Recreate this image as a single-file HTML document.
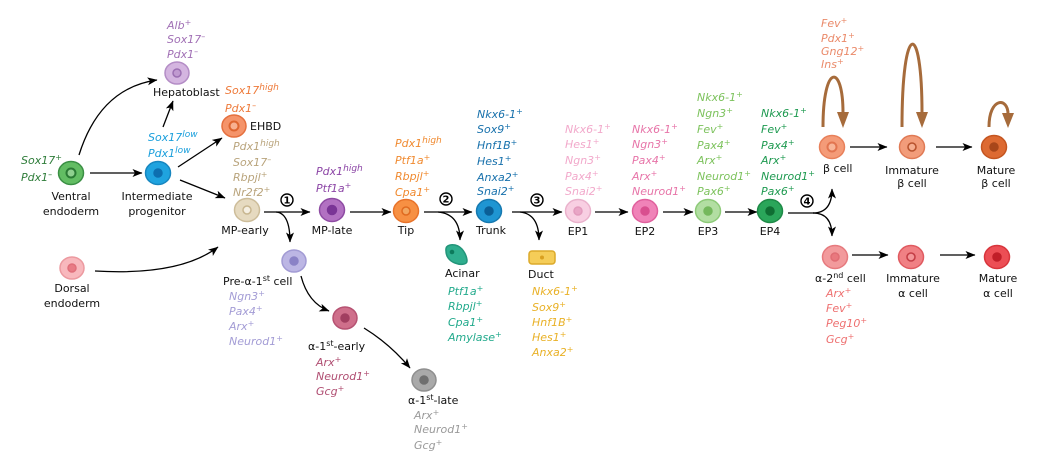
<!DOCTYPE html>
<html><head><meta charset="utf-8"><style>
html,body{margin:0;padding:0;background:#fff;}
svg{display:block;}
.l{font-family:"DejaVu Sans","Liberation Sans",sans-serif;font-size:11px;fill:#111;}
.m{font-family:"DejaVu Sans","Liberation Sans",sans-serif;font-size:11px;font-style:italic;}
.s{font-size:8px;}
.n{font-family:"DejaVu Sans","Liberation Sans",sans-serif;font-size:10px;font-weight:bold;fill:#000;}
</style></head><body>
<svg width="1039" height="456" viewBox="0 0 1039 456" xmlns="http://www.w3.org/2000/svg">
<defs>
<marker id="ah" markerUnits="userSpaceOnUse" markerWidth="11" markerHeight="9" refX="9.5" refY="4" orient="auto">
<path d="M0,0 L10,4 L0,8 L2.5,4 z" fill="#000"/>
</marker>
</defs>
<rect width="1039" height="456" fill="#fff"/>

<!-- arrows -->
<g fill="none" stroke="#000" stroke-width="1.3">
<path d="M90,173 L142,173" marker-end="url(#ah)"/>
<path d="M79,155 Q100,88 157,80" marker-end="url(#ah)"/>
<path d="M163,127 L173,101" marker-end="url(#ah)"/>
<path d="M178,167 L222,138" marker-end="url(#ah)"/>
<path d="M180,180 L225,198" marker-end="url(#ah)"/>
<path d="M95,271 Q180,276 218,247" marker-end="url(#ah)"/>
<path d="M264,212 L310,212" marker-end="url(#ah)"/>
<path d="M276,212 Q290,213 290,242" marker-end="url(#ah)"/>
<path d="M350,212 L391,212" marker-end="url(#ah)"/>
<path d="M424,212 L472,212" marker-end="url(#ah)"/>
<path d="M438,212 Q460,214 460,240" marker-end="url(#ah)"/>
<path d="M512,212 L562,212" marker-end="url(#ah)"/>
<path d="M520,212 Q539,214 539,240" marker-end="url(#ah)"/>
<path d="M595,212 L628,212" marker-end="url(#ah)"/>
<path d="M663,212 L693,212" marker-end="url(#ah)"/>
<path d="M725,212 L757,212" marker-end="url(#ah)"/>
<path d="M788,213 L814,213"/>
<path d="M813,213 C825,213 832,206 832,189" marker-end="url(#ah)"/>
<path d="M813,213 C825,213 832,220 832,236" marker-end="url(#ah)"/>
<path d="M850,147 L887,147" marker-end="url(#ah)"/>
<path d="M936,147 L972,147" marker-end="url(#ah)"/>
<path d="M852,255 L888,255" marker-end="url(#ah)"/>
<path d="M940,255 L975,255" marker-end="url(#ah)"/>
<path d="M301,276 Q308,303 329,311" marker-end="url(#ah)"/>
<path d="M364,328 Q390,344 410,368" marker-end="url(#ah)"/>
</g>

<!-- brown loops -->
<g fill="none" stroke="#a66b3b" stroke-width="3">
<path d="M823,127 C823,63 843,63 843,113"/>
<path d="M902,127 C902,19 922,19 922,113"/>
<path d="M989,127 C989,97 1008,97 1008,114"/>
</g>
<g fill="#a66b3b">
<polygon points="837,112 849,112 843,128"/>
<polygon points="916,112 928,112 922,128"/>
<polygon points="1002,113 1014,113 1008,128"/>
</g>

<!-- circled numbers -->
<g fill="#fff" stroke="#000" stroke-width="1.4">
<circle cx="287" cy="200" r="6"/>
<circle cx="446" cy="199" r="6"/>
<circle cx="537" cy="200" r="6"/>
<circle cx="807" cy="201" r="6"/>
</g>
<g class="n" text-anchor="middle">
<text x="287" y="203.5">1</text>
<text x="446" y="202.5">2</text>
<text x="537" y="203.5">3</text>
<text x="807" y="204.5">4</text>
</g>

<!-- cells -->
<g stroke-width="1.5">
<g transform="translate(71,173)"><ellipse rx="12.5" ry="11.5" fill="#62bd63" stroke="#3a8f44"/><circle r="4.5" fill="#8fd08f" stroke="#2a7a34" stroke-width="2"/></g>
<g transform="translate(158,173)"><ellipse rx="12.5" ry="11.5" fill="#1fa3df" stroke="#1786bf"/><circle r="4" fill="#0d6fb0" stroke="#0d6fb0"/></g>
<g transform="translate(177,73)"><ellipse rx="12" ry="11" fill="#d4b5e0" stroke="#b48dc6"/><circle r="4" fill="#c09ad0" stroke="#9b6fb2"/></g>
<g transform="translate(234,126)"><ellipse rx="12" ry="11" fill="#f5946a" stroke="#e5703f"/><circle r="4.5" fill="#f8b090" stroke="#de6530" stroke-width="2"/></g>
<g transform="translate(247,210)"><ellipse rx="12.5" ry="11.5" fill="#e6dac0" stroke="#cdbd9a"/><circle r="4" fill="#f5efe2" stroke="#c8b690"/></g>
<g transform="translate(332,210)"><ellipse rx="12.5" ry="11.5" fill="#b271c2" stroke="#8e4ba3"/><circle r="4.5" fill="#7a3596" stroke="#7a3596"/></g>
<g transform="translate(406,211)"><ellipse rx="12.5" ry="11.5" fill="#f79043" stroke="#e8732a"/><circle r="4" fill="#f2a660" stroke="#e06a20"/></g>
<g transform="translate(489,211)"><ellipse rx="12.5" ry="11.5" fill="#1f95d2" stroke="#1679b0"/><circle r="4" fill="#0b5f97" stroke="#0b5f97"/></g>
<g transform="translate(578,211)"><ellipse rx="12.5" ry="11.5" fill="#f8cfe2" stroke="#eab2cc"/><circle r="4" fill="#e9a6c6" stroke="#e29bbd"/></g>
<g transform="translate(645,211)"><ellipse rx="12.5" ry="11.5" fill="#f083b8" stroke="#e0609d"/><circle r="4" fill="#d94f8f" stroke="#d94f8f"/></g>
<g transform="translate(708,211)"><ellipse rx="12.5" ry="11.5" fill="#b2dea2" stroke="#8dca78"/><circle r="4" fill="#74b85c" stroke="#74b85c"/></g>
<g transform="translate(770,211)"><ellipse rx="12.5" ry="11.5" fill="#2aa65a" stroke="#1e8a47"/><circle r="4" fill="#0f6e33" stroke="#0f6e33"/></g>
<g transform="translate(832,147)"><ellipse rx="12.5" ry="11.5" fill="#f49b78" stroke="#e8805a"/><circle r="4.5" fill="#f8b598" stroke="#e27550" stroke-width="2"/></g>
<g transform="translate(912,147)"><ellipse rx="12.5" ry="11.5" fill="#f29c7a" stroke="#e07a55"/><circle r="4" fill="#f5ad8f" stroke="#b8532e" stroke-width="1.6"/></g>
<g transform="translate(994,147)"><ellipse rx="12.5" ry="11.5" fill="#dd6a32" stroke="#c45520"/><circle r="4" fill="#a8461a" stroke="#a8461a"/></g>
<g transform="translate(835,257)"><ellipse rx="12.5" ry="11.5" fill="#f29a9c" stroke="#e67a7e"/><circle r="4" fill="#e9787e" stroke="#e06d74"/></g>
<g transform="translate(911,257)"><ellipse rx="12.5" ry="11.5" fill="#f08084" stroke="#e05a60"/><circle r="4" fill="#f39598" stroke="#c43e46" stroke-width="1.6"/></g>
<g transform="translate(997,257)"><ellipse rx="12.5" ry="11.5" fill="#ec4e55" stroke="#d8353c"/><circle r="4" fill="#c01e28" stroke="#c01e28"/></g>
<g transform="translate(72,268)"><ellipse rx="12" ry="11" fill="#f8b8bd" stroke="#ec9aa0"/><circle r="4" fill="#e87b85" stroke="#e06f7a"/></g>
<g transform="translate(294,261)"><ellipse rx="12" ry="11" fill="#bcb6e4" stroke="#a29bd4"/><circle r="4" fill="#8a82c6" stroke="#8a82c6"/></g>
<g transform="translate(345,318)"><ellipse rx="12" ry="11" fill="#cf6f8b" stroke="#b65272"/><circle r="4" fill="#a13e60" stroke="#a13e60"/></g>
<g transform="translate(424,380)"><ellipse rx="12" ry="11" fill="#a9a9a9" stroke="#8f8f8f"/><circle r="4" fill="#6f6f6f" stroke="#6f6f6f"/></g>
<path d="M446,251 C445,244 453,244 458,246 C464,249 467,257 467,261 C467,265 460,265 455,263 C449,261 446,256 446,251 z" fill="#2fae8e" stroke="#23957a"/>
<circle cx="452" cy="252" r="2.3" fill="#0d7a5c" stroke="none"/>
<rect x="529" y="251" width="26" height="13" rx="3" fill="#f5cd58" stroke="#dcaa2a"/>
<circle cx="542" cy="257.5" r="2" fill="#d9a020" stroke="none"/>
</g>

<!-- labels -->
<g class="l">
<text x="153" y="96">Hepatoblast</text>
<text x="250" y="130">EHBD</text>
<text x="71" y="200" text-anchor="middle">Ventral</text>
<text x="71" y="215" text-anchor="middle">endoderm</text>
<text x="157" y="200" text-anchor="middle">Intermediate</text>
<text x="157" y="215" text-anchor="middle">progenitor</text>
<text x="245" y="234" text-anchor="middle">MP-early</text>
<text x="332" y="234" text-anchor="middle">MP-late</text>
<text x="406" y="234" text-anchor="middle">Tip</text>
<text x="491" y="234" text-anchor="middle">Trunk</text>
<text x="578" y="235" text-anchor="middle">EP1</text>
<text x="645" y="235" text-anchor="middle">EP2</text>
<text x="708" y="235" text-anchor="middle">EP3</text>
<text x="770" y="235" text-anchor="middle">EP4</text>
<text x="445" y="277">Acinar</text>
<text x="528" y="278">Duct</text>
<text x="823" y="172">β cell</text>
<text x="912" y="174" text-anchor="middle">Immature</text>
<text x="912" y="187" text-anchor="middle">β cell</text>
<text x="996" y="174" text-anchor="middle">Mature</text>
<text x="996" y="187" text-anchor="middle">β cell</text>
<text x="815" y="282">α-2<tspan class="s" dy="-4">nd</tspan><tspan dy="4"> cell</tspan></text>
<text x="913" y="282" text-anchor="middle">Immature</text>
<text x="913" y="297" text-anchor="middle">α cell</text>
<text x="998" y="282" text-anchor="middle">Mature</text>
<text x="998" y="297" text-anchor="middle">α cell</text>
<text x="72" y="292" text-anchor="middle">Dorsal</text>
<text x="72" y="307" text-anchor="middle">endoderm</text>
<text x="223" y="285">Pre-α-1<tspan class="s" dy="-4">st</tspan><tspan dy="4"> cell</tspan></text>
<text x="308" y="350">α-1<tspan class="s" dy="-4">st</tspan><tspan dy="4">-early</tspan></text>
<text x="408" y="404">α-1<tspan class="s" dy="-4">st</tspan><tspan dy="4">-late</tspan></text>
</g>

<!-- markers -->
<g class="m">
<g fill="#2f7d3a">
<text x="21" y="164">Sox17<tspan class="s" dy="-4">+</tspan></text>
<text x="21" y="181">Pdx1<tspan class="s" dy="-4">–</tspan></text>
</g>
<g fill="#1a9fdc">
<text x="148" y="141">Sox17<tspan font-size="9" dy="-4">low</tspan></text>
<text x="148" y="157">Pdx1<tspan font-size="9" dy="-4">low</tspan></text>
</g>
<g fill="#a170b5">
<text x="167" y="29">Alb<tspan class="s" dy="-4">+</tspan></text>
<text x="167" y="43">Sox17<tspan class="s" dy="-4">–</tspan></text>
<text x="167" y="58">Pdx1<tspan class="s" dy="-4">–</tspan></text>
</g>
<g fill="#ee7a3a">
<text x="225" y="94">Sox17<tspan font-size="9" dy="-4">high</tspan></text>
<text x="225" y="112">Pdx1<tspan class="s" dy="-4">–</tspan></text>
</g>
<g fill="#b9a47c">
<text x="233" y="150">Pdx1<tspan font-size="9" dy="-4">high</tspan></text>
<text x="233" y="166">Sox17<tspan class="s" dy="-4">–</tspan></text>
<text x="233" y="181">Rbpjl<tspan class="s" dy="-4">+</tspan></text>
<text x="233" y="196">Nr2f2<tspan class="s" dy="-4">+</tspan></text>
</g>
<g fill="#8c46a6">
<text x="316" y="175">Pdx1<tspan font-size="9" dy="-4">high</tspan></text>
<text x="316" y="192">Ptf1a<tspan class="s" dy="-4">+</tspan></text>
</g>
<g fill="#f08a30">
<text x="395" y="147">Pdx1<tspan font-size="9" dy="-4">high</tspan></text>
<text x="395" y="164">Ptf1a<tspan class="s" dy="-4">+</tspan></text>
<text x="395" y="180">Rbpjl<tspan class="s" dy="-4">+</tspan></text>
<text x="395" y="196">Cpa1<tspan class="s" dy="-4">+</tspan></text>
</g>
<g fill="#1871ac">
<text x="477" y="118">Nkx6-1<tspan class="s" dy="-4">+</tspan></text>
<text x="477" y="133">Sox9<tspan class="s" dy="-4">+</tspan></text>
<text x="477" y="149">Hnf1B<tspan class="s" dy="-4">+</tspan></text>
<text x="477" y="165">Hes1<tspan class="s" dy="-4">+</tspan></text>
<text x="477" y="181">Anxa2<tspan class="s" dy="-4">+</tspan></text>
<text x="477" y="195">Snai2<tspan class="s" dy="-4">+</tspan></text>
</g>
<g fill="#f2a9cb">
<text x="565" y="133">Nkx6-1<tspan class="s" dy="-4">+</tspan></text>
<text x="565" y="148">Hes1<tspan class="s" dy="-4">+</tspan></text>
<text x="565" y="164">Ngn3<tspan class="s" dy="-4">+</tspan></text>
<text x="565" y="180">Pax4<tspan class="s" dy="-4">+</tspan></text>
<text x="565" y="195">Snai2<tspan class="s" dy="-4">+</tspan></text>
</g>
<g fill="#e774a8">
<text x="632" y="133">Nkx6-1<tspan class="s" dy="-4">+</tspan></text>
<text x="632" y="148">Ngn3<tspan class="s" dy="-4">+</tspan></text>
<text x="632" y="164">Pax4<tspan class="s" dy="-4">+</tspan></text>
<text x="632" y="180">Arx<tspan class="s" dy="-4">+</tspan></text>
<text x="632" y="195">Neurod1<tspan class="s" dy="-4">+</tspan></text>
</g>
<g fill="#7cc25c">
<text x="697" y="101">Nkx6-1<tspan class="s" dy="-4">+</tspan></text>
<text x="697" y="117">Ngn3<tspan class="s" dy="-4">+</tspan></text>
<text x="697" y="133">Fev<tspan class="s" dy="-4">+</tspan></text>
<text x="697" y="149">Pax4<tspan class="s" dy="-4">+</tspan></text>
<text x="697" y="164">Arx<tspan class="s" dy="-4">+</tspan></text>
<text x="697" y="180">Neurod1<tspan class="s" dy="-4">+</tspan></text>
<text x="697" y="195">Pax6<tspan class="s" dy="-4">+</tspan></text>
</g>
<g fill="#1e9a50">
<text x="761" y="117">Nkx6-1<tspan class="s" dy="-4">+</tspan></text>
<text x="761" y="133">Fev<tspan class="s" dy="-4">+</tspan></text>
<text x="761" y="149">Pax4<tspan class="s" dy="-4">+</tspan></text>
<text x="761" y="164">Arx<tspan class="s" dy="-4">+</tspan></text>
<text x="761" y="180">Neurod1<tspan class="s" dy="-4">+</tspan></text>
<text x="761" y="195">Pax6<tspan class="s" dy="-4">+</tspan></text>
</g>
<g fill="#ea8a6a">
<text x="821" y="27">Fev<tspan class="s" dy="-4">+</tspan></text>
<text x="821" y="42">Pdx1<tspan class="s" dy="-4">+</tspan></text>
<text x="821" y="55">Gng12<tspan class="s" dy="-4">+</tspan></text>
<text x="821" y="68">Ins<tspan class="s" dy="-4">+</tspan></text>
</g>
<g fill="#ee7070">
<text x="826" y="297">Arx<tspan class="s" dy="-4">+</tspan></text>
<text x="826" y="312">Fev<tspan class="s" dy="-4">+</tspan></text>
<text x="826" y="327">Peg10<tspan class="s" dy="-4">+</tspan></text>
<text x="826" y="343">Gcg<tspan class="s" dy="-4">+</tspan></text>
</g>
<g fill="#a39cd5">
<text x="229" y="300">Ngn3<tspan class="s" dy="-4">+</tspan></text>
<text x="229" y="315">Pax4<tspan class="s" dy="-4">+</tspan></text>
<text x="229" y="330">Arx<tspan class="s" dy="-4">+</tspan></text>
<text x="229" y="345">Neurod1<tspan class="s" dy="-4">+</tspan></text>
</g>
<g fill="#b04e72">
<text x="316" y="366">Arx<tspan class="s" dy="-4">+</tspan></text>
<text x="316" y="380">Neurod1<tspan class="s" dy="-4">+</tspan></text>
<text x="316" y="395">Gcg<tspan class="s" dy="-4">+</tspan></text>
</g>
<g fill="#9a9a9a">
<text x="414" y="419">Arx<tspan class="s" dy="-4">+</tspan></text>
<text x="414" y="433">Neurod1<tspan class="s" dy="-4">+</tspan></text>
<text x="414" y="449">Gcg<tspan class="s" dy="-4">+</tspan></text>
</g>
<g fill="#22aa8c">
<text x="448" y="295">Ptf1a<tspan class="s" dy="-4">+</tspan></text>
<text x="448" y="310">Rbpjl<tspan class="s" dy="-4">+</tspan></text>
<text x="448" y="326">Cpa1<tspan class="s" dy="-4">+</tspan></text>
<text x="448" y="341">Amylase<tspan class="s" dy="-4">+</tspan></text>
</g>
<g fill="#e9b127">
<text x="532" y="295">Nkx6-1<tspan class="s" dy="-4">+</tspan></text>
<text x="532" y="311">Sox9<tspan class="s" dy="-4">+</tspan></text>
<text x="532" y="326">Hnf1B<tspan class="s" dy="-4">+</tspan></text>
<text x="532" y="341">Hes1<tspan class="s" dy="-4">+</tspan></text>
<text x="532" y="356">Anxa2<tspan class="s" dy="-4">+</tspan></text>
</g>
</g>
</svg>
</body></html>
